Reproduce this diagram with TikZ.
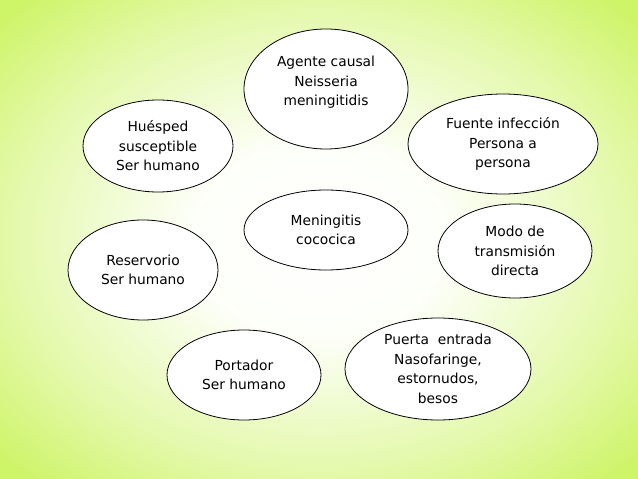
\documentclass[tikz,border=0pt]{standalone}
\usepackage{fontspec}
\setmainfont{DejaVu Sans}
\usetikzlibrary{shapes.geometric,positioning}
\definecolor{limebg}{RGB}{206,244,104}
\pgfdeclareradialshading{bgglow}{\pgfpoint{0bp}{0bp}}{color(0bp)=(white); color(10bp)=(white!96!limebg);
  color(24bp)=(white!45!limebg); color(34bp)=(limebg); color(50bp)=(limebg)}

\begin{document}
\begin{tikzpicture}[x=1pt,y=-1pt]
\tikzset{factor/.style ={ellipse, draw=black, line width=0.8pt, fill=white, inner sep=0pt, align=center,
  font=\fontsize{13.8pt}{19.5pt}\selectfont}}
% background
\shade[shading=bgglow] (0,0) rectangle (638,479);
\useasboundingbox (0,0) rectangle (638,479);
    \node[factor, minimum width=164pt, minimum height=120pt, text depth=16pt] (agente) at (326,89) {Agente causal\\Neisseria\\meningitidis};
    \node[factor, minimum width=190pt, minimum height=100pt] (fuente) at (503,144) {Fuente infección\\Persona a\\persona};
    \node[factor, minimum width=150pt, minimum height=92pt] (huesped) at (158,146) {Huésped\\susceptible\\Ser humano};
    \node[factor, minimum width=164pt, minimum height=80pt] (menin) at (326,230) {Meningitis\\cococica};
    \node[factor, minimum width=150pt, minimum height=100pt] (reserv) at (143,270) {Reservorio\\Ser humano};
    \node[factor, minimum width=154pt, minimum height=94pt] (modo) at (515,251) {Modo de\\transmisión\\directa};
    \node[factor, minimum width=154pt, minimum height=90pt] (portador) at (244,375) {Portador\\Ser humano};
    \node[factor, minimum width=186pt, minimum height=102pt] (puerta) at (438,369) {Puerta\ \ entrada\\Nasofaringe,\\estornudos,\\besos};
\end{tikzpicture}
\end{document}
